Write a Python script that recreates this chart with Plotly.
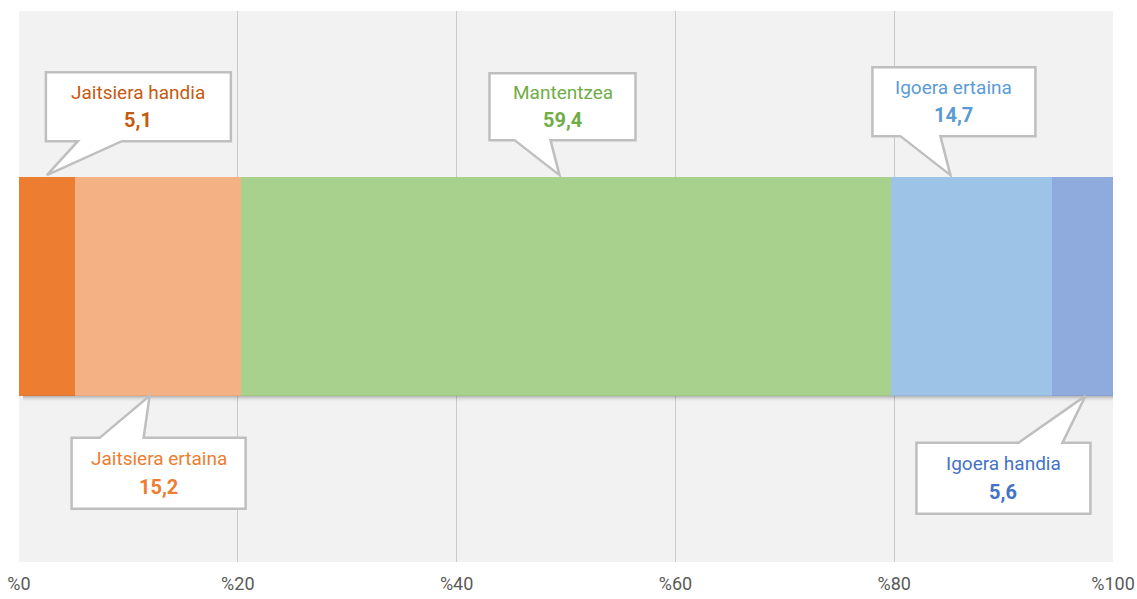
import plotly.graph_objects as go

categories = ["Jaitsiera handia", "Jaitsiera ertaina", "Mantentzea", "Igoera ertaina", "Igoera handia"]
values = [5.1, 15.2, 59.4, 14.7, 5.6]
value_labels = ["5,1", "15,2", "59,4", "14,7", "5,6"]
tick_vals = [0, 20, 40, 60, 80, 100]
tick_text = ["%0", "%20", "%40", "%60", "%80", "%100"]

bar_colors = ["#ED7D31", "#F4B183", "#A9D18E", "#9DC3E6", "#8FAADC"]
label_colors = ["#C55A11", "#ED7D31", "#70AD47", "#5B9BD5", "#4472C4"]

W, H = 1137, 599
ML, MR, MT, MB = 19, 24, 11, 37
PW = W - ML - MR
PH = H - MT - MB
BAR_W = 0.397
FONT = "Roboto, sans-serif"

# callout geometry (pixel offsets relative to the pointer tip)
# frac: where along the segment the pointer tip lands
callouts = [
    dict(frac=0.50, side="above", box=(-1, 184, -103, -34), base=(31, 75)),
    dict(frac=0.45, side="below", box=(-78, 96, 42, 113), base=(-50, -6)),
    dict(frac=0.49, side="above", box=(-70, 76, -102, -35), base=(-45, -9)),
    dict(frac=0.37, side="above", box=(-78, 85, -108, -39), base=(-50, -10)),
    dict(frac=0.55, side="below", box=(-169, 5, 47, 118), base=(-67, -23)),
]

def dx(p):
    return p * 100.0 / PW

def dy(p):
    return -p / PH

fig = go.Figure()
for cat, v, c in zip(categories, values, bar_colors):
    fig.add_trace(go.Bar(y=[0], x=[v], orientation="h", name=cat,
                         marker=dict(color=c, line=dict(width=0)),
                         width=BAR_W, hoverinfo="skip"))

shapes = []
annotations = []

# soft shadow under the bar
for i, op in enumerate([0.35, 0.25, 0.16, 0.09, 0.05, 0.02]):
    shapes.append(dict(type="rect", xref="x", yref="y", layer="above",
                       x0=dx(4), x1=100 + dx(4),
                       y0=-BAR_W / 2 + dy(i), y1=-BAR_W / 2 + dy(i + 1),
                       line=dict(width=0), fillcolor=f"rgba(70,70,70,{op})"))

cum = 0.0
for cat, v, lab, col, co in zip(categories, values, value_labels, label_colors, callouts):
    tip_x = cum + co["frac"] * v
    cum += v
    if co["side"] == "above":
        tip_y = BAR_W / 2 + dy(-2)
    else:
        tip_y = -BAR_W / 2 + dy(0)
    bl, br, bt, bb = co["box"]
    x0, x1 = tip_x + dx(bl), tip_x + dx(br)
    yt, yb = tip_y + dy(bt), tip_y + dy(bb)
    p1, p2 = tip_x + dx(co["base"][0]), tip_x + dx(co["base"][1])
    if co["side"] == "above":
        path = (f"M {x0},{yt} L {x1},{yt} L {x1},{yb} L {p2},{yb} L {tip_x},{tip_y} "
                f"L {p1},{yb} L {x0},{yb} Z")
    else:
        path = (f"M {x0},{yt} L {p1},{yt} L {tip_x},{tip_y} L {p2},{yt} L {x1},{yt} "
                f"L {x1},{yb} L {x0},{yb} Z")
    shapes.append(dict(type="path", xref="x", yref="y", layer="above", path=path,
                       fillcolor="white", line=dict(color="#BFBFBF", width=2.5)))
    cx = (x0 + x1) / 2
    mid = (bt + bb) / 2
    annotations.append(dict(x=cx, y=tip_y + dy(mid - 14.5), xref="x", yref="y",
                            text=cat, showarrow=False,
                            font=dict(family=FONT, size=19, color=col)))
    annotations.append(dict(x=cx, y=tip_y + dy(mid + 13.5), xref="x", yref="y",
                            text=f"<b>{lab}</b>", showarrow=False,
                            font=dict(family=FONT, size=20, color=col)))

fig.update_layout(
    barmode="stack",
    width=W, height=H,
    margin=dict(l=ML, r=MR, t=MT, b=MB, pad=0, autoexpand=False),
    paper_bgcolor="white",
    plot_bgcolor="#F2F2F2",
    showlegend=False,
    hovermode=False,
    shapes=shapes,
    annotations=annotations,
    xaxis=dict(range=[0, 100], tickvals=tick_vals, ticktext=tick_text,
               showgrid=True, gridcolor="#C9C9C9", gridwidth=1, zeroline=False,
               showline=False, ticks="", ticklabelstandoff=9, automargin=False,
               ticklabeloverflow="allow",
               tickfont=dict(family=FONT, size=18, color="#595959"),
               fixedrange=True),
    yaxis=dict(range=[-0.5, 0.5], showgrid=False, zeroline=False, automargin=False,
               showticklabels=False, showline=False, fixedrange=True),
)

fig.write_html(
    "out.html",
    config={"displayModeBar": False, "staticPlot": True},
    post_script="document.body.style.margin='0';document.body.style.overflow='hidden';",
)
